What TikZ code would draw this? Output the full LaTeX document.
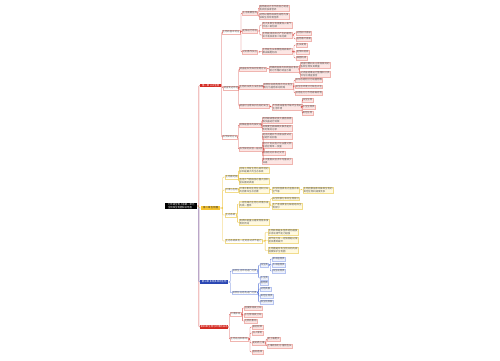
\documentclass[tikz,border=0pt]{standalone}
\usepackage{fontspec}
\newfontfamily\cjk{Noto Sans CJK SC}
\usetikzlibrary{positioning,calc}
\definecolor{mapred}{HTML}{D42A22}
\definecolor{redline}{HTML}{D9534F}
\definecolor{redfill}{HTML}{FCE6E4}
\definecolor{rededge}{HTML}{F0B5B0}
\definecolor{mapyellow}{HTML}{F5C330}
\definecolor{yellowline}{HTML}{EDC23A}
\definecolor{yellowfill}{HTML}{FFF9E0}
\definecolor{yellowedge}{HTML}{F1DC8C}
\definecolor{mapblue}{HTML}{2A46B3}
\definecolor{blueline}{HTML}{5573D6}
\definecolor{bluefill}{HTML}{EEF2FD}
\definecolor{blueedge}{HTML}{B6C4F0}
\definecolor{textgray}{HTML}{555555}
\newcommand\mapfont{\cjk\fontsize{2.4pt}{2.9pt}\selectfont}

\begin{document}
\begin{tikzpicture}[
  x=1pt, y=-1pt,
  every node/.style={anchor=west, inner sep=0.5pt, align=left, font=\mapfont, text=textgray},
  rootbox/.style={fill=black, text=white, inner sep=0.9pt, minimum width=32pt},
  headred/.style={fill=mapred, text=white, minimum height=3.8pt},
  headyellow/.style={fill=mapyellow, text=black!80, minimum height=3.8pt},
  headblue/.style={fill=mapblue, text=white, minimum height=3.8pt},
  subred/.style={fill=white, draw=rededge, line width=0.2pt},
  leafred/.style={fill=redfill, draw=rededge, line width=0.2pt},
  subyellow/.style={fill=white, draw=yellowedge, line width=0.2pt},
  leafyellow/.style={fill=yellowfill, draw=yellowedge, line width=0.2pt},
  subblue/.style={fill=white, draw=blueedge, line width=0.2pt},
  leafblue/.style={fill=bluefill, draw=blueedge, line width=0.2pt},
  linkred/.style={draw=redline, line width=0.35pt, rounded corners=0.8pt},
  linkyellow/.style={draw=yellowline, line width=0.35pt, rounded corners=0.8pt},
  linkblue/.style={draw=blueline, line width=0.35pt, rounded corners=0.8pt}
]
  \useasboundingbox (0,0) rectangle (500,360);

  % root
  \node[rootbox] (root) at (165,206) {七年级生物上册第一单元\\生物和生物圈知识导图};

  % branch 1
  \node[headred, minimum width=21pt] (b1) at (200,85.5) {第一章 认识生物};
  \node[subred] (A) at (222,32) {生物的基本特征};
  \node[subred] (B) at (223,88) {调查周边环境};
  \node[subred] (C) at (222,137) {科学探究方法};

  \node[leafred] (A1) at (242,13) {生活需要营养};
  \node[leafred] (A2) at (242,31) {能够进行呼吸};
  \node[leafred] (A3) at (242,52) {对刺激作反应};
  \node[leafred] (A1a) at (259,8) {植物通过光合作用自己制造\\有机物获得营养};
  \node[leafred] (A1b) at (259,16.5) {动物以植物或其他动物为食\\获取生存所需营养};
  \node[leafred] (A2a) at (262,25) {绝大多数生物需要吸入氧气\\呼出二氧化碳};
  \node[leafred] (A2b) at (262,35) {生物能排出体内产生的废物\\如汗液尿液和二氧化碳};
  \node[leafred] (A2b1) at (296,33) {动物排汗排尿};
  \node[leafred] (A2b2) at (296,39) {植物落叶排废};
  \node[leafred] (A3a) at (262,51.5) {生物能生长和繁殖除病毒外\\都由细胞构成};
  \node[leafred] (A3a1) at (296,45) {生长发育};
  \node[leafred] (A3a2) at (296,52) {遗传和变异};
  \node[leafred] (A3a3) at (296,58) {细胞构成};

  \node[leafred] (B1) at (239,69) {调查是科学探究常用方法};
  \node[leafred] (B2) at (239,87) {生物的归类方法有多种};
  \node[leafred] (B3) at (239,106) {调查时注意保护自身的安全};
  \node[leafred] (B1a) at (269,69) {明确调查目的和调查对象并\\制订合理的调查方案};
  \node[leafred] (B1a1) at (300,65) {调查时要如实记录观察到的\\各种生物及其数量};
  \node[leafred] (B1a2) at (300,74.5) {对调查结果进行整理和分类\\并写出调查报告};
  \node[leafred] (B2a) at (263,86.5) {按照形态结构特点可以将生\\物分为植物和动物等};
  \node[leafred] (B2a1) at (295,80) {按形态结构分为动植物等};
  \node[leafred] (B2a2) at (295,86.5) {按生活环境分为陆生水生};
  \node[leafred] (B2a3) at (295,93) {按用途分为作物家禽宠物};
  \node[leafred] (B3a) at (272,107) {不伤害动植物不破坏生物的\\生活环境};
  \node[leafred] (B3a1) at (302,100) {陆生生物};
  \node[leafred] (B3a2) at (302,107) {水生生物类};
  \node[leafred] (B3a3) at (302,113) {其他生物};

  \node[leafred] (C1) at (239,125) {观察是基本的探究法};
  \node[leafred] (C2) at (239,149) {科学探究实验一般过程};
  \node[leafred] (C1a) at (262,120.5) {用肉眼或借助放大镜显微镜\\等仪器进行观察};
  \node[leafred] (C1b) at (262,128.5) {观察要全面细致实事求是并\\及时做好记录};
  \node[leafred] (C2a) at (262,136.5) {提出问题并作出假设尝试对\\问题作出回答};
  \node[leafred] (C2b) at (262,145) {制订计划实施计划设置对照\\实验控制单一变量};
  \node[leafred] (C2c) at (262,153) {得出结论并表达交流};
  \node[leafred] (C2d) at (262,161) {多次重复实验求平均值减少\\误差};

  % branch 2
  \node[headyellow, minimum width=19pt] (b2) at (201,208) {第二章 生物圈};
  \node[subyellow] (D) at (225,177) {生物圈范围};
  \node[leafyellow] (D1) at (239,170.5) {地球上所有生物与其环境的\\总和是最大的生态系统};
  \node[leafyellow] (D2) at (239,181.5) {包括大气圈底部水圈大部和\\岩石圈的表面};
  \node[subyellow] (E) at (225,190) {环境与生物};
  \node[leafyellow] (E1) at (239,190) {环境中影响生物生活和分布\\的因素叫生态因素};
  \node[leafyellow] (E1a) at (272,190) {非生物因素有光温度水和\\空气等};
  \node[leafyellow] (E1a1) at (303,190) {生物因素指影响某种生物的\\其他生物如捕食竞争};
  \node[subyellow] (F) at (225,215) {生态系统};
  \node[leafyellow] (F1) at (239,204) {一定地域内生物与环境形成\\的统一整体};
  \node[leafyellow] (F1a) at (272,198.5) {由生物部分和非生物部分};
  \node[leafyellow] (F1b) at (272,206) {生产者消费者分解者组成生\\物部分};
  \node[leafyellow] (F2) at (239,222.5) {物质和能量沿着食物链和食\\物网流动};
  \node[subyellow] (G) at (225,241) {生态系统具有一定的自动调节能力};
  \node[leafyellow] (G1) at (268,232.5) {生物种类越多营养结构越复\\杂自动调节能力越强};
  \node[leafyellow] (G2) at (268,240.5) {调节能力有一定限度超过限\\度会遭到破坏};
  \node[leafyellow] (G3) at (268,250.5) {生物圈是所有生物共同的家\\园要保护生物圈};

  % branch 3
  \node[headblue, minimum width=28pt] (b3) at (200,282) {第三章 多种多样的生物};
  \node[subblue] (H) at (232,271) {按照生活环境进行分类};
  \node[leafblue] (H1) at (260,265) {陆生类};
  \node[leafblue] (H1a) at (272,259) {草本植物类};
  \node[leafblue] (H1b) at (272,265) {木本植物类};
  \node[leafblue] (H1c) at (272,271) {陆生动物类};
  \node[leafblue] (H2) at (260,278) {水生类};
  \node[subblue] (I) at (232,292.5) {按照形态结构进行分类};
  \node[leafblue] (I1) at (260,283) {植物类};
  \node[leafblue] (I2) at (260,289) {动物类群};
  \node[leafblue] (I3) at (260,296) {其他生物类};
  \node[leafblue] (I4) at (260,302) {微生物类群};

  % branch 4
  \node[headred, minimum width=28pt] (b4) at (200,327) {第四章 生物与环境的关系};
  \node[subred] (J) at (230,314) {环境影响};
  \node[leafred] (J1) at (244,308) {温度影响其分布};
  \node[leafred] (J2) at (244,315) {水分影响其分布};
  \node[leafred] (J3) at (244,321) {光照的影响};
  \node[subred] (K) at (230,339) {生物适应和影响};
  \node[leafred] (K1) at (252,327) {骆驼耐旱};
  \node[leafred] (K2) at (252,333) {仙人掌刺};
  \node[leafred] (K3) at (252,343) {蚯蚓改土壤};
  \node[leafred] (K3a) at (267,339) {使土壤肥沃};
  \node[leafred] (K3b) at (267,346) {土壤疏松利于植物生长};
  \node[leafred] (K4) at (252,352) {植树造林};

  % connectors
  \draw[linkred] (root.east) -- ++(1.5,0) |- (b1.west);
  \draw[linkred] (root.east) -- ++(1.5,0) |- (b4.west);
  \draw[linkblue] (root.east) -- ++(1.5,0) |- (b3.west);
  \draw[linkyellow] (root.east) -- ++(1.5,0) |- (b2.west);
  \foreach \p/\c in {b1/A, b1/B, b1/C, A/A1, A/A2, A/A3, A1/A1a, A1/A1b,
      A2/A2a, A2/A2b, A2b/A2b1, A2b/A2b2, A3/A3a, A3a/A3a1, A3a/A3a2, A3a/A3a3,
      B/B1, B/B2, B/B3, B1/B1a, B1a/B1a1, B1a/B1a2, B2/B2a, B2a/B2a1, B2a/B2a2,
      B2a/B2a3, B3/B3a, B3a/B3a1, B3a/B3a2, B3a/B3a3, C/C1, C/C2, C1/C1a, C1/C1b,
      C2/C2a, C2/C2b, C2/C2c, C2/C2d, b4/J, b4/K, J/J1, J/J2, J/J3,
      K/K1, K/K2, K/K3, K/K4, K3/K3a, K3/K3b}
    \draw[linkred] (\p.east) -| ($(\p.east)!0.5!(\c.west)$) |- (\c.west);
  \foreach \p/\c in {b2/D, b2/E, b2/F, b2/G, D/D1, D/D2, E/E1, E1/E1a, E1a/E1a1,
      F/F1, F/F2, F1/F1a, F1/F1b, G/G1, G/G2, G/G3}
    \draw[linkyellow] (\p.east) -| ($(\p.east)!0.5!(\c.west)$) |- (\c.west);
  \foreach \p/\c in {b3/H, b3/I, H/H1, H/H2, H1/H1a, H1/H1b, H1/H1c,
      I/I1, I/I2, I/I3, I/I4}
    \draw[linkblue] (\p.east) -| ($(\p.east)!0.5!(\c.west)$) |- (\c.west);
\end{tikzpicture}
\end{document}
